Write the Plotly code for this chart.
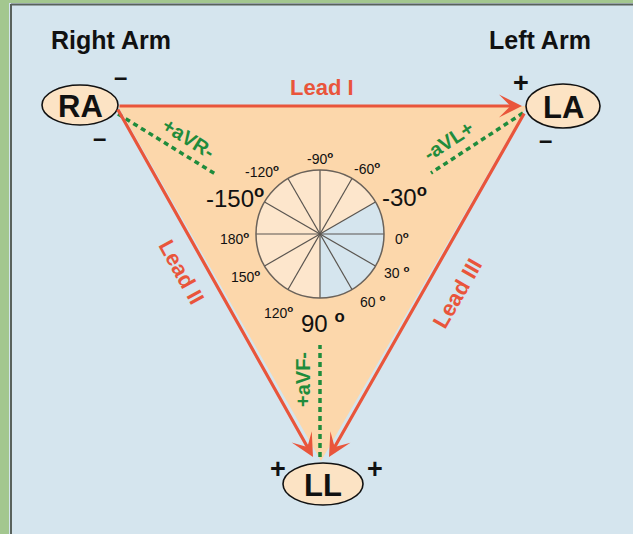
import numpy as np
import plotly.graph_objects as go

# ---------------- data ----------------
electrode_names = ["RA", "LA", "LL"]
limb_titles = ["Right Arm", "Left Arm"]
lead_names = ["Lead I", "Lead II", "Lead III"]
aug_names = ["+aVR-", "-aVL+", "+aVF-"]
polarity_signs = ["–", "–", "+", "–", "+", "+"]
hex_angles = [-150, -120, -90, -60, -30, 0, 30, 60, 90, 120, 150, 180]
hex_labels = ["-150", "-120", "-90", "-60", "-30", "0", "30 ", "60 ", "90 ", "120", "150", "180"]
major_angles = [-150, -30, 90]
normal_sector = [-30, 90]

# ---------------- layout geometry (pixels) ----------------
electrode_x = [80, 563, 323]
electrode_y = [105, 106, 484]
electrode_rx = [38, 37, 40]
electrode_ry = [20, 22, 21]
limb_title_x = [111, 540]
limb_title_y = [40, 40]
lead_x0 = [118, 117, 525]
lead_y0 = [106, 108, 112]
lead_x1 = [522, 313, 329]
lead_y1 = [106, 457, 457]
lead_label_x = [322, 182, 457]
lead_label_y = [87, 272, 293]
lead_label_angle = [0, 61, -60]
aug_x0 = [118, 523, 320]
aug_y0 = [114, 113, 457]
aug_x1 = [217, 431, 320]
aug_y1 = [175, 173, 345]
aug_label_x = [188, 448, 303]
aug_label_y = [138, 141, 380]
aug_label_angle = [32, -33, -90]
sign_x = [120, 99, 521, 545, 278, 375]
sign_y = [76, 137, 83, 139, 469, 469]
hex_label_x = [235, 262, 320, 367, 404, 402, 396, 372, 323, 278, 245, 234]
hex_label_y = [197, 171, 158, 168, 196, 238, 272, 301, 322, 312, 276, 238]
circle_cx, circle_cy, circle_r = 320, 234, 64

# ---------------- styles ----------------
BG = "#d5e5ee"
PEACH = "#fcd7ab"
PEACH_LIGHT = "#fde6cc"
RED = "#e9553b"
GREEN = "#1f8c3c"
FONT = "Liberation Sans, Arial, sans-serif"

fig = go.Figure()
shapes = []

# frame
shapes.append(dict(type="rect", x0=0, x1=9, y0=0, y1=534, fillcolor="#a3c78f", line_width=0, layer="below"))
shapes.append(dict(type="rect", x0=0, x1=633, y0=0, y1=3, fillcolor="#a3c78f", line_width=0, layer="below"))
shapes.append(dict(type="line", x0=11, x1=11, y0=4, y1=534, line=dict(color="#59625c", width=2)))
shapes.append(dict(type="line", x0=11, x1=633, y0=4.5, y1=4.5, line=dict(color="#59625c", width=2)))

# triangle fill
tri = [(lead_x0[0], lead_y0[0]), (lead_x0[2] + 2, lead_y1[0]), ((lead_x1[1] + lead_x1[2]) / 2, lead_y1[1] + 4)]
path = "M " + " L ".join(f"{x},{y}" for x, y in tri) + " Z"
shapes.append(dict(type="path", path=path, fillcolor=PEACH, line_width=0, layer="below"))

# hexaxial circle
shapes.append(dict(type="circle", x0=circle_cx - circle_r, x1=circle_cx + circle_r,
                   y0=circle_cy - circle_r, y1=circle_cy + circle_r,
                   fillcolor=PEACH_LIGHT, line_width=0, layer="below"))
th = np.radians(np.linspace(normal_sector[0], normal_sector[1], 60))
sx = circle_cx + circle_r * np.cos(th)
sy = circle_cy + circle_r * np.sin(th)
spath = f"M {circle_cx},{circle_cy} " + " ".join(f"L {a:.2f},{b:.2f}" for a, b in zip(sx, sy)) + " Z"
shapes.append(dict(type="path", path=spath, fillcolor=BG, line_width=0, layer="below"))
for a in hex_angles:
    if 0 <= a < 180:
        r = np.radians(a)
        shapes.append(dict(type="line",
                           x0=circle_cx - circle_r * np.cos(r), y0=circle_cy - circle_r * np.sin(r),
                           x1=circle_cx + circle_r * np.cos(r), y1=circle_cy + circle_r * np.sin(r),
                           line=dict(color="#5a5550", width=1.2)))
shapes.append(dict(type="circle", x0=circle_cx - circle_r, x1=circle_cx + circle_r,
                   y0=circle_cy - circle_r, y1=circle_cy + circle_r,
                   line=dict(color="#6a625a", width=1.5)))

# augmented leads (dashed)
for i in range(3):
    shapes.append(dict(type="line", x0=aug_x0[i], y0=aug_y0[i], x1=aug_x1[i], y1=aug_y1[i],
                       line=dict(color=GREEN, width=3.5, dash="5px,4px")))

# electrodes
for i in range(3):
    shapes.append(dict(type="circle",
                       x0=electrode_x[i] - electrode_rx[i], x1=electrode_x[i] + electrode_rx[i],
                       y0=electrode_y[i] - electrode_ry[i], y1=electrode_y[i] + electrode_ry[i],
                       fillcolor="#fce3c4", line=dict(color="#111111", width=1.6)))

annotations = []
for i in range(3):
    annotations.append(dict(x=lead_x1[i], y=lead_y1[i], ax=lead_x0[i], ay=lead_y0[i],
                            xref="x", yref="y", axref="x", ayref="y", text="",
                            showarrow=True, arrowhead=3, arrowsize=1.2, arrowwidth=3.2,
                            arrowcolor=RED, standoff=0, startstandoff=0))
    annotations.append(dict(x=lead_label_x[i], y=lead_label_y[i], text=f"<b>{lead_names[i]}</b>",
                            textangle=lead_label_angle[i], showarrow=False,
                            font=dict(family=FONT, size=22, color=RED)))
    annotations.append(dict(x=aug_label_x[i], y=aug_label_y[i], text=f"<b>{aug_names[i]}</b>",
                            textangle=aug_label_angle[i], showarrow=False,
                            font=dict(family=FONT, size=20, color=GREEN)))

for i in range(3):
    annotations.append(dict(x=electrode_x[i], y=electrode_y[i] + 1, text=f"<b>{electrode_names[i]}</b>",
                            showarrow=False, font=dict(family=FONT, size=31, color="#111111")))
for i in range(2):
    annotations.append(dict(x=limb_title_x[i], y=limb_title_y[i], text=f"<b>{limb_titles[i]}</b>",
                            showarrow=False, font=dict(family=FONT, size=25, color="#111111")))
for s, x, y in zip(polarity_signs, sign_x, sign_y):
    annotations.append(dict(x=x, y=y, text=f"<b>{s}</b>", showarrow=False,
                            font=dict(family=FONT, size=24 if s == "–" else 27, color="#111111")))

# degree labels
for a, lab, x, y in zip(hex_angles, hex_labels, hex_label_x, hex_label_y):
    big = a in major_angles
    annotations.append(dict(x=x, y=y, text=f"{lab}<sup><b>o</b></sup>", showarrow=False,
                            font=dict(family=FONT, size=24 if big else 14, color="#111111")))

fig.update_layout(
    width=633, height=534, autosize=False,
    margin=dict(l=0, r=0, t=0, b=0),
    paper_bgcolor=BG, plot_bgcolor=BG,
    xaxis=dict(range=[0, 633], visible=False, fixedrange=True),
    yaxis=dict(range=[534, 0], visible=False, fixedrange=True),
    shapes=shapes, annotations=annotations, showlegend=False,
)

fig.write_html("out.html", config={"displayModeBar": False},
               post_script="document.body.style.margin='0';document.body.style.overflow='hidden';")
